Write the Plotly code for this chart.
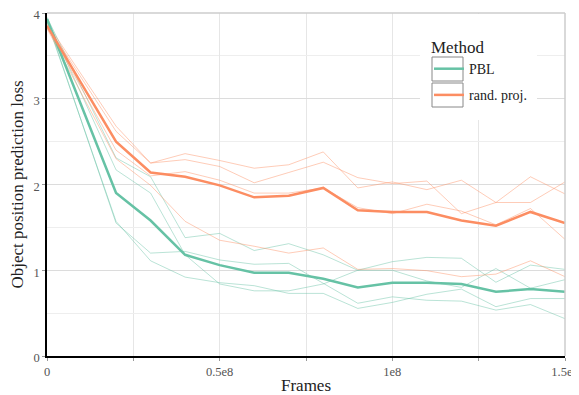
import plotly.graph_objects as go

# ---------------- data ----------------
frames = [0, 2e7, 3e7, 4e7, 5e7, 6e7, 7e7, 8e7, 9e7, 1e8, 1.1e8, 1.2e8, 1.3e8, 1.4e8, 1.5e8]

pbl_seed1 = [3.95, 2.31, 2.09, 1.38, 1.43, 1.23, 1.31, 1.18, 1.00, 1.00, 0.875, 0.80, 1.02, 0.79, 0.89]
pbl_seed2 = [3.93, 2.17, 1.90, 1.18, 0.84, 0.76, 0.76, 0.84, 1.00, 1.10, 1.15, 1.14, 0.86, 1.06, 1.01]
pbl_seed3 = [3.92, 1.55, 1.20, 1.22, 1.12, 1.07, 1.08, 0.85, 0.615, 0.69, 0.65, 0.64, 0.535, 0.60, 0.435]
pbl_seed4 = [3.90, 1.57, 1.11, 0.92, 0.855, 0.82, 0.73, 0.73, 0.555, 0.625, 0.72, 0.78, 0.575, 0.67, 0.67]
pbl_mean = [3.93, 1.90, 1.58, 1.18, 1.06, 0.97, 0.97, 0.90, 0.80, 0.855, 0.855, 0.84, 0.75, 0.78, 0.75]

rp_seed1 = [3.88, 2.68, 2.25, 2.36, 2.28, 2.19, 2.23, 2.38, 1.96, 2.03, 1.94, 2.05, 1.79, 1.79, 2.03]
rp_seed2 = [3.86, 2.62, 2.25, 2.29, 2.21, 2.02, 2.14, 2.26, 2.08, 2.01, 2.04, 1.66, 1.79, 2.09, 1.89]
rp_seed3 = [3.84, 2.40, 2.10, 2.15, 2.05, 1.90, 1.90, 1.96, 1.73, 1.66, 1.77, 1.69, 1.53, 1.72, 1.36]
rp_seed4 = [3.82, 2.30, 1.99, 1.57, 1.35, 1.28, 1.20, 1.26, 1.01, 1.02, 0.995, 0.925, 0.955, 1.11, 0.925]
rp_mean = [3.85, 2.50, 2.14, 2.09, 1.99, 1.85, 1.87, 1.96, 1.70, 1.68, 1.68, 1.58, 1.52, 1.68, 1.55]

methods = ["PBL", "rand. proj."]
x_tickvals = [0, 0.5e8, 1e8, 1.5e8]
x_ticktext = ["0", "0.5e8", "1e8", "1.5e8"]
y_tickvals = [0, 1, 2, 3, 4]
y_ticktext = ["0", "1", "2", "3", "4"]

GREEN = "#66c2a5"
ORANGE = "#fc8d62"
GREEN_T = "rgba(102,194,165,0.45)"
ORANGE_T = "rgba(252,141,98,0.45)"
FONT = "Liberation Serif"

fig = go.Figure()

for s in [pbl_seed1, pbl_seed2, pbl_seed3, pbl_seed4]:
    fig.add_trace(go.Scatter(x=frames, y=s, mode="lines", line=dict(color=GREEN_T, width=1),
                             showlegend=False, hoverinfo="skip"))
for s in [rp_seed1, rp_seed2, rp_seed3, rp_seed4]:
    fig.add_trace(go.Scatter(x=frames, y=s, mode="lines", line=dict(color=ORANGE_T, width=1),
                             showlegend=False, hoverinfo="skip"))

fig.add_trace(go.Scatter(x=frames, y=pbl_mean, mode="lines", name=methods[0],
                         line=dict(color=GREEN, width=2.5), legendgroup="a"))
fig.add_trace(go.Scatter(x=frames, y=rp_mean, mode="lines", name=methods[1],
                         line=dict(color=ORANGE, width=2.5), legendgroup="b"))


def px_x(xw):
    # window pixel -> paper x (plot area spans 47..565)
    return (xw - 47) / 518.0


def px_y(yw):
    # window pixel -> paper y (plot area spans 13..356)
    return (356 - yw) / 343.0


legend_shapes = [
    dict(type="rect", xref="paper", yref="paper", layer="above",
         x0=px_x(420), x1=px_x(537), y0=px_y(120), y1=px_y(14),
         fillcolor="white", line=dict(width=0)),
    dict(type="rect", xref="paper", yref="paper", layer="above",
         x0=px_x(432), x1=px_x(463), y0=px_y(81), y1=px_y(57),
         fillcolor="rgba(0,0,0,0)", line=dict(color="#888888", width=1)),
    dict(type="rect", xref="paper", yref="paper", layer="above",
         x0=px_x(432), x1=px_x(463), y0=px_y(107), y1=px_y(83),
         fillcolor="rgba(0,0,0,0)", line=dict(color="#888888", width=1)),
]
border_shapes = [
    dict(type="line", xref="paper", yref="paper", x0=0, x1=1, y0=1, y1=1,
         line=dict(color="#cccccc", width=1.5), layer="above"),
    dict(type="line", xref="paper", yref="paper", x0=1, x1=1, y0=0, y1=1,
         line=dict(color="#cccccc", width=1.5), layer="above"),
]

# page body has an 8px margin: figure is 571x387 placed at (8,8) in the 579x395 window
fig.update_layout(
    template="none",
    width=571, height=387,
    margin=dict(l=39, r=14, t=5, b=39, autoexpand=False),
    paper_bgcolor="white", plot_bgcolor="white",
    font=dict(family=FONT, color="#444", size=12.5),
    legend=dict(
        title=dict(text="Method", font=dict(family=FONT, size=17, color="#222")),
        x=px_x(429), y=px_y(31), xanchor="left", yanchor="top",
        bgcolor="rgba(0,0,0,0)", borderwidth=0,
        font=dict(family=FONT, size=14, color="#222"),
        tracegroupgap=5, itemwidth=30,
    ),
    xaxis=dict(
        range=[0, 1.5e8], tickmode="array", tickvals=x_tickvals, ticktext=x_ticktext,
        showgrid=True, gridcolor="#e6e6e6", gridwidth=1,
        minor=dict(dtick=0.25e8, showgrid=True, gridcolor="#e6e6e6", ticks="outside", ticklen=3, tickcolor="#999"),
        ticks="outside", ticklen=3, tickcolor="#999",
        showline=True, linecolor="black", linewidth=1.5, zeroline=False,
        automargin=False, ticklabeloverflow="allow",
        title=dict(text="Frames", font=dict(family=FONT, size=17, color="#222"), standoff=12),
        tickfont=dict(family=FONT, size=12.5, color="#555"),
    ),
    yaxis=dict(
        range=[0, 4], tickmode="array", tickvals=y_tickvals, ticktext=y_ticktext,
        showgrid=True, gridcolor="#dcdcdc", gridwidth=1,
        minor=dict(dtick=0.5, showgrid=True, gridcolor="#eeeeee", ticks="", ticklen=0),
        ticks="outside", ticklen=3, tickcolor="#999",
        showline=True, linecolor="black", linewidth=1.5, zeroline=False,
        automargin=False, ticklabeloverflow="allow", ticklabelshift=2,
        title=dict(text="Object position prediction loss", font=dict(family=FONT, size=17, color="#222"), standoff=10),
        tickfont=dict(family=FONT, size=12.5, color="#555"),
    ),
    shapes=legend_shapes + border_shapes,
)

fig.write_html("out.html")
